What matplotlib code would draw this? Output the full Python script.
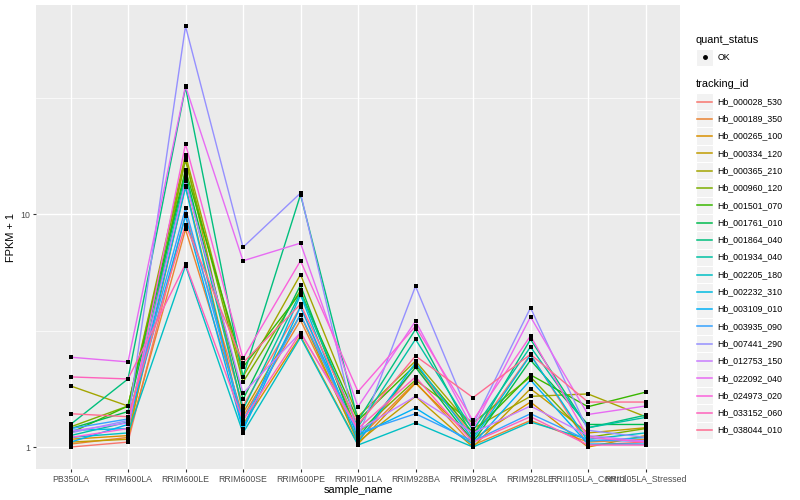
import numpy as np
import matplotlib.pyplot as plt
from matplotlib.patches import Rectangle
from matplotlib.lines import Line2D

plt.rcParams['font.family'] = ['Liberation Sans', 'DejaVu Sans']

samples = ['PB350LA', 'RRIM600LA', 'RRIM600LE', 'RRIM600SE', 'RRIM600PE', 'RRIM901LA',
           'RRIM928BA', 'RRIM928LA', 'RRIM928LE', 'RRII105LA_Control', 'RRII105LA_Stressed']

tracking_ids = ['Hb_000028_530', 'Hb_000189_350', 'Hb_000265_100', 'Hb_000334_120',
                'Hb_000365_210', 'Hb_000960_120', 'Hb_001501_070', 'Hb_001761_010',
                'Hb_001864_040', 'Hb_001934_040', 'Hb_002205_180', 'Hb_002232_310',
                'Hb_003109_010', 'Hb_003935_090', 'Hb_007441_290', 'Hb_012753_150',
                'Hb_022092_040', 'Hb_024973_020', 'Hb_033152_060', 'Hb_038044_010']

# ggplot hue palette, 20 levels
colors = ['#F8766D', '#EA8331', '#D89000', '#C09B00', '#A3A500', '#7CAE00', '#39B600',
          '#00BB4E', '#00BF7D', '#00C1A3', '#00BFC4', '#00BAE0', '#00B0F6', '#35A2FF',
          '#9590FF', '#C77CFF', '#E76BF3', '#FA62DB', '#FF62BC', '#FF6C91']

# FPKM + 1, one row per tracking_id, one column per sample
fpkm = [
    [1.00, 1.05, 10.0, 1.50, 4.00, 1.05, 2.20, 1.12, 2.50, 1.02, 1.05],
    [1.03, 1.10, 8.60, 1.35, 3.50, 1.08, 1.90, 1.02, 1.30, 1.05, 1.08],
    [1.08, 1.12, 13.2, 1.25, 3.00, 1.03, 1.88, 1.08, 1.56, 1.00, 1.12],
    [1.05, 1.08, 17.5, 1.40, 3.70, 1.05, 1.65, 1.00, 1.78, 1.15, 1.21],
    [1.83, 1.50, 18.0, 2.00, 5.50, 1.35, 2.34, 1.20, 1.65, 1.69, 1.35],
    [1.22, 1.50, 17.0, 1.90, 4.70, 1.15, 1.94, 1.27, 2.00, 1.10, 1.20],
    [1.15, 1.50, 15.5, 2.20, 4.60, 1.30, 2.25, 1.15, 2.04, 1.49, 1.72],
    [1.20, 1.42, 15.0, 1.60, 4.95, 1.10, 2.20, 1.05, 2.36, 1.25, 1.25],
    [1.25, 1.96, 35.0, 2.00, 12.1, 1.30, 3.20, 1.10, 2.90, 1.21, 1.37],
    [1.12, 1.28, 14.4, 1.45, 4.60, 1.22, 2.90, 1.18, 2.69, 1.21, 1.34],
    [1.10, 1.15, 6.00, 1.15, 2.96, 1.02, 1.27, 1.00, 1.28, 1.08, 1.15],
    [1.18, 1.20, 13.0, 1.20, 4.50, 1.05, 2.30, 1.08, 2.48, 1.06, 1.10],
    [1.05, 1.25, 9.80, 1.18, 4.00, 1.12, 1.47, 1.03, 1.94, 1.03, 1.03],
    [1.20, 1.32, 10.6, 1.30, 3.70, 1.15, 1.39, 1.06, 1.39, 1.07, 1.06],
    [1.15, 1.30, 64.0, 7.20, 12.3, 1.10, 4.90, 1.25, 3.96, 1.18, 1.10],
    [1.17, 1.27, 13.8, 1.70, 3.10, 1.18, 1.65, 1.15, 1.50, 1.12, 1.06],
    [2.43, 2.32, 35.4, 6.30, 7.50, 1.49, 3.47, 1.20, 3.62, 1.38, 1.50],
    [1.10, 1.20, 20.0, 2.40, 6.30, 1.73, 3.30, 1.30, 3.00, 1.10, 1.05],
    [2.00, 1.96, 6.10, 1.30, 3.10, 1.20, 2.00, 1.05, 1.35, 1.02, 1.02],
    [1.39, 1.35, 9.00, 2.30, 4.10, 1.25, 2.46, 1.63, 2.50, 1.56, 1.56],
]

fig = plt.figure(figsize=(8, 5), dpi=100)
ax = fig.add_axes([36 / 800, 31 / 500, 644 / 800, 464 / 500])
ax.set_facecolor('#EBEBEB')

x = np.arange(len(samples))
for vals, c in zip(fpkm, colors):
    ax.plot(x, vals, color=c, lw=1.0, zorder=2)
for vals in fpkm:
    ax.scatter(x, vals, s=8, marker='s', color='black', zorder=3, linewidths=0)

ax.set_yscale('log')
ax.set_ylim(0.805, 78.9)
ax.set_xlim(-0.6, len(samples) - 0.4)

ax.set_yticks([1, 10])
ax.set_yticklabels(['1', '10'])
ax.set_yticks([10 ** 0.5, 10 ** 1.5], minor=True)
ax.set_xticks(x)
ax.set_xticklabels(samples)
ax.tick_params(axis='y', which='minor', length=0)
ax.tick_params(axis='both', which='major', length=2.5, width=0.8, color='#333333',
               labelsize=6.3, labelcolor='#4D4D4D', pad=1.5)

ax.grid(True, which='major', color='white', lw=1.0, zorder=0)
ax.grid(True, which='minor', axis='y', color='white', lw=0.5, zorder=0)
ax.set_axisbelow(True)
for s in ax.spines.values():
    s.set_visible(False)

ax.set_xlabel('sample_name', fontsize=7.9, labelpad=1)
ax.set_ylabel('FPKM + 1', fontsize=7.9, labelpad=3)

# legend drawn by hand in figure pixels
lg = fig.add_axes([0, 0, 1, 1], facecolor='none')
lg.set_xlim(0, 800)
lg.set_ylim(500, 0)
lg.axis('off')

key = 17.3
kx = 696
lg.text(kx, 40, 'quant_status', fontsize=7.9, va='center', ha='left')
lg.add_patch(Rectangle((kx, 48.5), key, key, facecolor='#F2F2F2', edgecolor='white', lw=0.8))
lg.plot(kx + key / 2, 57, 'o', color='black', ms=2.5)
lg.text(kx + key + 4, 57, 'OK', fontsize=6.3, va='center', ha='left')

lg.text(kx, 84, 'tracking_id', fontsize=7.9, va='center', ha='left')
y0 = 101.5
for i, (tid, c) in enumerate(zip(tracking_ids, colors)):
    yc = y0 + i * key
    lg.add_patch(Rectangle((kx, yc - key / 2), key, key, facecolor='#F2F2F2',
                           edgecolor='white', lw=0.8))
    lg.add_line(Line2D([kx + 1, kx + key - 1], [yc, yc], color=c, lw=1.1))
    lg.text(kx + key + 4, yc, tid, fontsize=6.3, va='center', ha='left')

fig.savefig('out.png', dpi=100, facecolor='white')
